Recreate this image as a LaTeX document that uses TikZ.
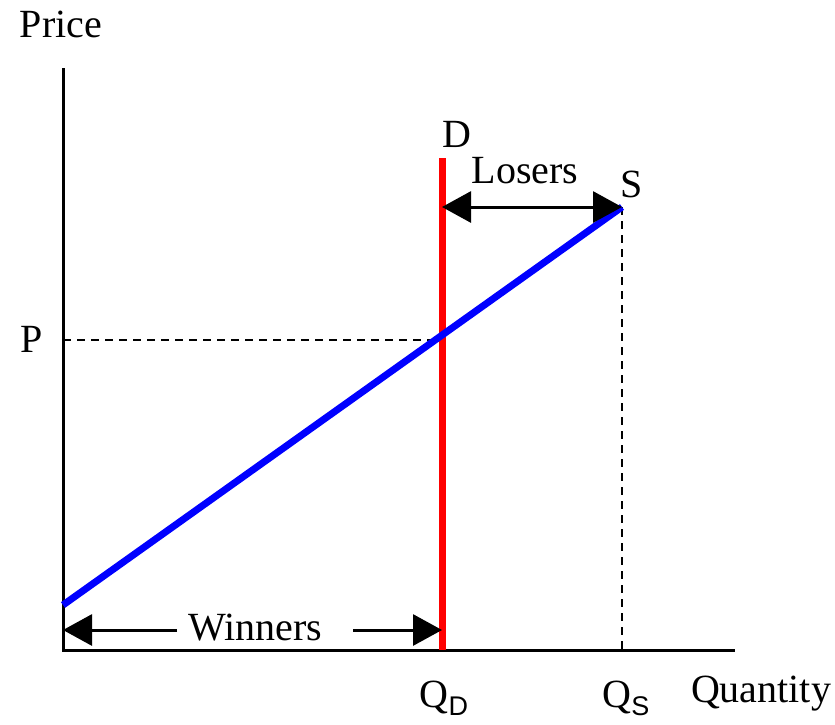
\documentclass[tikz,border=0pt]{standalone}
\usepackage{fontspec}
\setmainfont{Liberation Serif}
\newfontfamily\subsans{Liberation Sans}
\usetikzlibrary{arrows.meta}
\begin{document}
\begin{tikzpicture}[x=1pt,y=-1pt,
  axis/.style={line width=3pt},
  lbl/.style={inner sep=0pt,font=\fontsize{40}{44}\selectfont},
  guide/.style={line width=1.6pt,dash pattern=on 8pt off 6pt},
  dbl/.style={line width=3pt,{Triangle[length=29pt,width=31pt]}-{Triangle[length=29pt,width=31pt]}},
  sgl/.style={line width=3pt,-{Triangle[length=29pt,width=31pt]}}]
\useasboundingbox (0,0) rectangle (835,724);
\coordinate (O) at (63,650);
\coordinate (ytop) at (63,68);
\coordinate (xend) at (735,650);
\coordinate (Dtop) at (442,158);
\coordinate (Dbot) at (442,650);
\coordinate (Sbot) at (63,605);
\coordinate (Stop) at (622,207);
\coordinate (Pax) at (63,340);
\coordinate (Pint) at (442,340);
\coordinate (Qs) at (622,650);
\coordinate (Lleft) at (442,207);
\coordinate (Wl) at (63,630);
\coordinate (Wr) at (442,630);
\coordinate (Wlend) at (177,630);
\coordinate (Wrstart) at (353,630);
% guides
\draw[guide] (Pax) -- (Pint);
\draw[guide] (Stop) -- (Qs);
% axes
\draw[axis] (ytop) -- (O) -- (xend);
% curves
\draw[red,line width=7pt] (Dtop) -- (Dbot);
\draw[blue,line width=7pt] (Sbot) -- (Stop);
% arrows
\draw[dbl] (Lleft) -- (Stop);
\draw[sgl] (Wlend) -- (Wl);
\draw[sgl] (Wrstart) -- (Wr);
% labels
\node[lbl,anchor=base] (price) at (61,37) {Price};
\node[lbl,anchor=base] (plbl) at (32,352) {P};
\node[lbl,anchor=base] (dlbl) at (457,147) {D};
\node[lbl,anchor=base] (slbl) at (632,197) {S};
\node[lbl,anchor=base] (losers) at (525,183) {Losers};
\node[lbl,anchor=base] (winners) at (255,640) {Winners};
\node[lbl,anchor=base] (qd) at (444,707) {Q\raisebox{-8pt}{\subsans\fontsize{27}{30}\selectfont D}};
\node[lbl,anchor=base] (qs) at (626,707) {Q\raisebox{-8pt}{\subsans\fontsize{27}{30}\selectfont S}};
\node[lbl,anchor=base] (qty) at (761,702) {Quantity};
\end{tikzpicture}
\end{document}
